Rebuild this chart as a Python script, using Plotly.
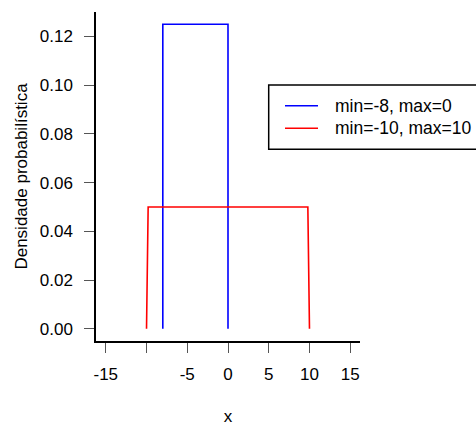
import plotly.graph_objects as go

# Data: uniform densities traced as outlines
blue_name = "min=-8, max=0"
blue_x = [-8, -8, 0, 0]
blue_y = [0, 0.125, 0.125, 0]

red_name = "min=-10, max=10"
red_x = [-10, -9.8, 9.8, 10]
red_y = [0, 0.05, 0.05, 0]

x_tickvals = [-15, -10, -5, 0, 5, 10, 15]
x_ticktext = ["-15", "", "-5", "0", "5", "10", "15"]
y_tickvals = [0, 0.02, 0.04, 0.06, 0.08, 0.10, 0.12]

FONT = "Liberation Sans, Arial, Helvetica, sans-serif"
FS = 17

series = [(blue_name, blue_x, blue_y, "#0000ff"),
          (red_name, red_x, red_y, "#ff0000")]

fig = go.Figure()
for name, xs, ys, col in series:
    fig.add_trace(go.Scatter(x=xs, y=ys, mode="lines", name=name,
                             line=dict(color=col, width=1.6), showlegend=False))

axis_common = dict(showgrid=False, zeroline=False, showline=True, linecolor="black",
                   linewidth=1.5, ticks="outside", ticklen=10, tickcolor="#555555",
                   tickwidth=1, tickfont=dict(family=FONT, size=FS, color="black"),
                   automargin=True)

# legend drawn as a boxed key (paper coordinates derived from pixel layout)
L, T, W, H = 96, 12, 264, 329
def px(x):
    return (x - L) / W
def py(y):
    return (T + H - y) / H

shapes = [dict(type="rect", xref="paper", yref="paper",
               x0=px(268.7), x1=1.6, y0=py(149.3), y1=py(85),
               line=dict(color="black", width=1.5), fillcolor="white", layer="above")]
annotations = []
row_y = [105.7, 128.3]
for (name, _, _, col), ry in zip(series, row_y):
    shapes.append(dict(type="line", xref="paper", yref="paper",
                       x0=px(285), x1=px(318), y0=py(ry), y1=py(ry),
                       line=dict(color=col, width=1.6), layer="above"))
    annotations.append(dict(text=name, xref="paper", yref="paper",
                            x=px(333), y=py(ry), xanchor="left", yanchor="middle",
                            showarrow=False, font=dict(family=FONT, size=17.5, color="black")))

fig.update_layout(
    width=476, height=426,
    margin=dict(l=L, r=476 - L - W, t=T, b=426 - T - H, autoexpand=False),
    paper_bgcolor="white", plot_bgcolor="white",
    font=dict(family=FONT, size=FS, color="black"),
    xaxis=dict(range=[-16.2, 16.2], tickvals=x_tickvals, ticktext=x_ticktext,
               ticklabelstandoff=7,
               title=dict(text="x", standoff=32, font=dict(family=FONT, size=FS)),
               **axis_common),
    yaxis=dict(range=[-0.005, 0.13], tickvals=y_tickvals, tickformat=".2f",
               ticklabelstandoff=8,
               title=dict(text="Densidade probabilística", standoff=8,
                          font=dict(family=FONT, size=FS)),
               **axis_common),
    showlegend=False,
    shapes=shapes,
    annotations=annotations,
)

fig.write_html("out.html")
